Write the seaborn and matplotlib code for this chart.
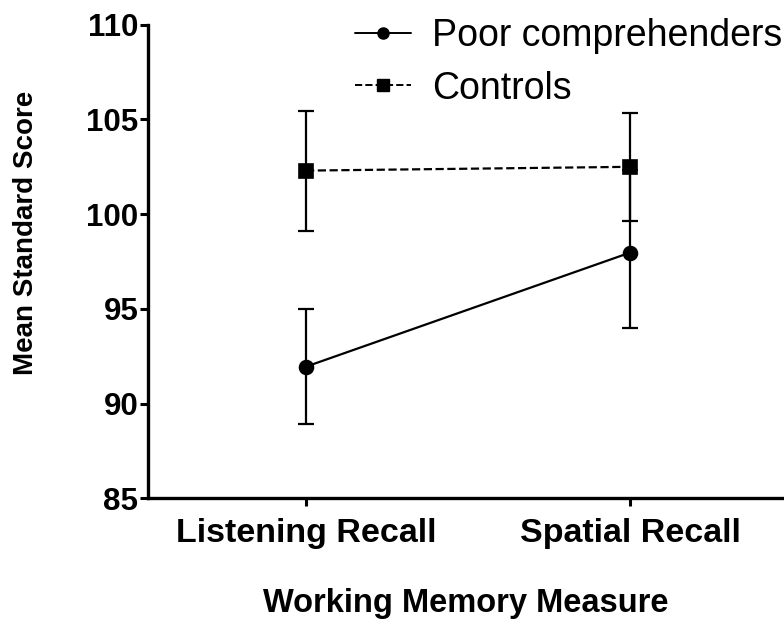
import pandas as pd
import seaborn as sns
import matplotlib.pyplot as plt
import matplotlib.lines as mlines

measures = ["Listening Recall", "Spatial Recall"]
groups = ["Poor comprehenders", "Controls"]
poor_means = [91.95, 97.97]
poor_err_low = [3.03, 4.0]
poor_err_high = [3.03, 4.35]   # upper cap on spatial sits under the square
control_means = [102.3, 102.5]
control_err_low = [3.17, 2.85]
control_err_high = [3.17, 2.85]

sns.set_style("ticks")
plt.rcParams["font.family"] = ["Liberation Sans", "DejaVu Sans"]
plt.rcParams["text.color"] = "black"
plt.rcParams["axes.labelcolor"] = "black"
plt.rcParams["xtick.color"] = "black"
plt.rcParams["ytick.color"] = "black"

data = pd.DataFrame({
    "measure": measures * 2,
    "group": [groups[0]] * 2 + [groups[1]] * 2,
    "mean": poor_means + control_means,
    "low": poor_err_low + control_err_low,
    "high": poor_err_high + control_err_high,
})

fig = plt.figure(figsize=(7.84, 6.19), dpi=100)
ax = fig.add_axes([0.189, 0.195, 0.811, 0.765])

styles = {"Poor comprehenders": ("o", "-"), "Controls": ("s", "--")}
sns.pointplot(data=data, x="measure", y="mean", hue="group",
              markers=["o", "s"], linestyles=["-", "--"],
              palette=["black", "black"], errorbar=None,
              markersize=10, linewidth=1.6, legend=False, ax=ax)

# error bars drawn on the categorical positions
for grp in groups:
    sub = data[data["group"] == grp]
    pos = [measures.index(m) for m in sub["measure"]]
    ax.errorbar(pos, sub["mean"], yerr=[sub["low"], sub["high"]], fmt="none",
                ecolor="black", elinewidth=1.6, capsize=6, capthick=1.6,
                zorder=1)

ax.set_xlim(-0.487, 1.475)
ax.set_ylim(85, 110)
ax.set_yticks([85, 90, 95, 100, 105, 110])
ax.tick_params(axis="both", width=2.2, length=6, color="black")
ax.tick_params(axis="x", pad=8, labelsize=24.5)
ax.tick_params(axis="y", pad=1, labelsize=22.5)
for lbl in ax.get_xticklabels() + ax.get_yticklabels():
    lbl.set_fontweight("bold")
for side in ["left", "bottom"]:
    ax.spines[side].set_linewidth(2.4)
    ax.spines[side].set_color("black")
sns.despine(ax=ax)

ax.set_xlabel("Working Memory Measure", fontsize=23.5, fontweight="bold",
              labelpad=28)
ax.set_ylabel("Mean Standard Score", fontsize=20, fontweight="bold")
ax.yaxis.set_label_coords(-0.172, 0.56)

handles = [mlines.Line2D([], [], color="black", marker=styles[g][0],
                         linestyle=styles[g][1], markersize=8, linewidth=1.4,
                         label=g) for g in groups]
fig.legend(handles=handles, loc="upper left", bbox_to_anchor=(0.41, 1.026),
           frameon=False, fontsize=27, handlelength=1.5, handletextpad=0.55,
           labelspacing=0.45)

fig.savefig("out.png", dpi=100)
